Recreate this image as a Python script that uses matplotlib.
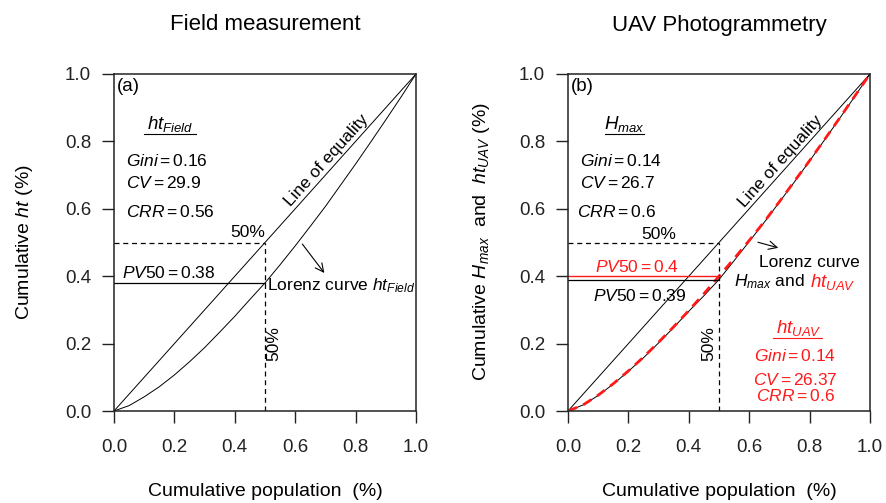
import matplotlib
matplotlib.use("Agg")
import matplotlib.pyplot as plt

plt.rcParams['font.family'] = ['Liberation Sans', 'DejaVu Sans']
plt.rcParams['mathtext.fontset'] = 'custom'
plt.rcParams['mathtext.rm'] = 'Liberation Sans'
plt.rcParams['mathtext.it'] = 'Liberation Sans:italic'
plt.rcParams['mathtext.bf'] = 'Liberation Sans:bold'

# ---- data ----
pop = [0, .05, .1, .15, .2, .25, .3, .35, .4, .45, .5, .55, .6, .65, .7, .75, .8, .85, .9, .95, 1.0]
lorenz_field = [0, 0.016, 0.042, 0.072, 0.107, 0.146, 0.188, 0.234, 0.281, 0.331, 0.38,
                0.434, 0.49, 0.548, 0.607, 0.67, 0.733, 0.798, 0.864, 0.931, 1.0]
lorenz_hmax = [0, 0.018, 0.046, 0.08, 0.118, 0.158, 0.202, 0.248, 0.296, 0.342, 0.39,
               0.446, 0.503, 0.56, 0.62, 0.68, 0.742, 0.805, 0.869, 0.934, 1.0]
lorenz_htuav = [0, 0.018, 0.047, 0.081, 0.119, 0.16, 0.204, 0.25, 0.298, 0.348, 0.40,
                0.452, 0.506, 0.562, 0.621, 0.682, 0.743, 0.806, 0.87, 0.935, 1.0]
equality = [0, 1]
ticks = [0.0, 0.2, 0.4, 0.6, 0.8, 1.0]
tick_labels = ['0.0', '0.2', '0.4', '0.6', '0.8', '1.0']
pv50_field = 0.38
pv50_hmax = 0.39
pv50_htuav = 0.40
titles = ['Field measurement', 'UAV Photogrammetry']

W, H = 886, 503
fig = plt.figure(figsize=(W / 100, H / 100), dpi=100)

def make_ax(left_px):
    ax = fig.add_axes([left_px / W, (H - 411) / H, 302 / W, 337 / H])
    ax.set_xlim(0, 1)
    ax.set_ylim(0, 1)
    ax.set_xticks(ticks)
    ax.set_xticklabels(tick_labels)
    ax.set_yticks(ticks)
    ax.set_yticklabels(tick_labels)
    ax.tick_params(axis='both', direction='out', length=8.5, width=1.0, labelsize=13.5,
                   colors='#222222')
    ax.tick_params(axis='x', pad=12)
    ax.tick_params(axis='y', pad=8)
    for s in ax.spines.values():
        s.set_linewidth(1.1)
        s.set_color('#222222')
    return ax

ANN = 12.5
RED = '#ff1a1a'

# ---------------- panel (a) ----------------
ax1 = make_ax(114)
ax1.plot(equality, equality, color='black', lw=0.7)
ax1.plot(pop, lorenz_field, color='black', lw=0.7)
ax1.plot([0, 0.5], [0.5, 0.5], color='black', lw=0.9, ls=(0, (4, 3)))
ax1.plot([0.5, 0.5], [0, 0.5], color='black', lw=0.9, ls=(0, (4, 3)))
ax1.plot([0, 0.5], [pv50_field, pv50_field], color='black', lw=0.9)

ax1.text(0.008, 0.962, '(a)', fontsize=13.5, ha='left', va='center')
ax1.text(0.185, 0.852, r'$ht_{Field}$', fontsize=ANN + 1, ha='center', va='center')
ax1.plot([0.1, 0.27], [0.822, 0.822], color='black', lw=0.8)
ax1.text(0.04, 0.743, r'$Gini = 0.16$', fontsize=ANN, ha='left', va='center')
ax1.text(0.04, 0.676, r'$CV = 29.9$', fontsize=ANN, ha='left', va='center')
ax1.text(0.04, 0.59, r'$CRR = 0.56$', fontsize=ANN, ha='left', va='center')
ax1.text(0.5, 0.508, '50%', fontsize=ANN, ha='right', va='bottom')
ax1.text(0.025, 0.387, r'$PV50 = 0.38$', fontsize=ANN, ha='left', va='bottom')
ax1.text(0.505, 0.2, '50%', fontsize=ANN, ha='left', va='center', rotation=90)
ax1.text(0.705, 0.745, 'Line of equality', fontsize=ANN, ha='center', va='center',
         rotation=48, rotation_mode='anchor')
ax1.annotate('', xy=(0.702, 0.403), xytext=(0.618, 0.502),
             arrowprops=dict(arrowstyle='->', color='black', lw=0.8, mutation_scale=15))
ax1.text(0.508, 0.372, r'Lorenz curve $ht_{Field}$', fontsize=ANN, ha='left', va='center')

fig.text((114 + 151) / W, 1 - 25 / H, titles[0], fontsize=16, ha='center', va='center')
fig.text((114 + 151) / W, 1 - 491 / H, 'Cumulative population  (%)', fontsize=14,
         ha='center', va='center')
fig.text(25 / W, 1 - 242 / H, r'Cumulative $ht$ (%)', fontsize=14, ha='center',
         va='center', rotation=90)

# ---------------- panel (b) ----------------
ax2 = make_ax(568)
ax2.plot(equality, equality, color='black', lw=0.7)
ax2.plot(pop, lorenz_hmax, color='black', lw=0.7)
ax2.plot(pop, lorenz_htuav, color=RED, lw=2.0, ls=(0, (3.5, 2.4)))
ax2.plot([0, 0.5], [0.5, 0.5], color='black', lw=0.9, ls=(0, (4, 3)))
ax2.plot([0.5, 0.5], [0, 0.5], color='black', lw=0.9, ls=(0, (4, 3)))
ax2.plot([0, 0.5], [pv50_hmax, pv50_hmax], color='black', lw=0.9)
ax2.plot([0, 0.5], [pv50_htuav, pv50_htuav], color=RED, lw=1.0)

ax2.text(0.008, 0.962, '(b)', fontsize=13.5, ha='left', va='center')
ax2.text(0.187, 0.852, r'$H_{max}$', fontsize=ANN + 1, ha='center', va='center')
ax2.plot([0.122, 0.252], [0.822, 0.822], color='black', lw=0.8)
ax2.text(0.04, 0.743, r'$Gini = 0.14$', fontsize=ANN, ha='left', va='center')
ax2.text(0.04, 0.676, r'$CV = 26.7$', fontsize=ANN, ha='left', va='center')
ax2.text(0.03, 0.59, r'$CRR = 0.6$', fontsize=ANN, ha='left', va='center')
ax2.text(0.3, 0.525, '50%', fontsize=ANN, ha='center', va='center')
ax2.text(0.228, 0.426, r'$PV50 = 0.4$', fontsize=ANN, ha='center', va='center', color=RED)
ax2.text(0.238, 0.342, r'$PV50 = 0.39$', fontsize=ANN, ha='center', va='center')
ax2.text(0.492, 0.2, '50%', fontsize=ANN, ha='right', va='center', rotation=90)
ax2.text(0.705, 0.74, 'Line of equality', fontsize=ANN, ha='center', va='center',
         rotation=48, rotation_mode='anchor')
ax2.annotate('', xy=(0.705, 0.482), xytext=(0.62, 0.503),
             arrowprops=dict(arrowstyle='->', color='black', lw=0.8, mutation_scale=15))
ax2.text(0.80, 0.44, 'Lorenz curve', fontsize=ANN, ha='center', va='center')
ax2.text(0.785, 0.384, r'$H_{max}$ and', fontsize=ANN, ha='right', va='center')
ax2.text(0.80, 0.384, r'$ht_{UAV}$', fontsize=ANN + 1, ha='left', va='center', color=RED)
ax2.text(0.763, 0.247, r'$ht_{UAV}$', fontsize=ANN + 1, ha='center', va='center', color=RED)
ax2.plot([0.68, 0.84], [0.218, 0.218], color=RED, lw=0.8)
ax2.text(0.752, 0.163, r'$Gini = 0.14$', fontsize=ANN, ha='center', va='center', color=RED)
ax2.text(0.752, 0.092, r'$CV = 26.37$', fontsize=ANN, ha='center', va='center', color=RED)
ax2.text(0.752, 0.045, r'$CRR = 0.6$', fontsize=ANN, ha='center', va='center', color=RED)

fig.text((568 + 151) / W, 1 - 25 / H, titles[1], fontsize=16, ha='center', va='center')
fig.text((568 + 151) / W, 1 - 491 / H, 'Cumulative population  (%)', fontsize=14,
         ha='center', va='center')
fig.text(481 / W, 1 - 242 / H, r'Cumulative $H_{max}$  and  $ht_{UAV}$ (%)', fontsize=14,
         ha='center', va='center', rotation=90)

fig.savefig('out.png', dpi=100)
